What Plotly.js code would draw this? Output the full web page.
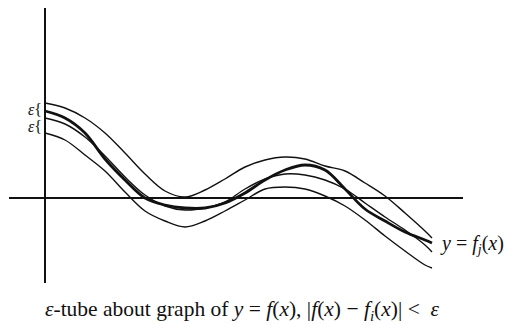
<!DOCTYPE html>
<html>
<head>
<meta charset="utf-8">
<script src="https://cdn.plot.ly/plotly-3.0.1.min.js"></script>
<style>html,body{margin:0;padding:0;background:#fff;}#chart{width:510px;height:324px;}</style>
</head>
<body>
<div id="chart"></div>
<script>
// x positions (shared by all curves)
const xValues = [0,2,4,6,8,10,12,14,16,18,20,22,24,26,28,30,32,34,36,38,38.7];
// upper edge of the tube: f(x) + epsilon
const upperValues = [9.5,9.0,8.0,6.5,4.5,2.4,0.7,0.1,0.8,1.9,3.1,3.8,4.1,3.9,3.2,2.7,1.5,0.2,-1.5,-3.3,-4.0];
// f(x)
const fValues = [8.0,7.4,6.1,4.2,2.1,0.3,-0.8,-1.2,-1.0,-0.4,0.9,1.9,2.4,2.3,1.8,0.9,-0.5,-1.9,-3.2,-4.7,-5.4];
// lower edge of the tube: f(x) - epsilon
const lowerValues = [6.5,5.8,4.3,2.7,0.6,-1.3,-2.3,-2.9,-2.3,-1.3,-0.2,0.9,1.1,0.9,0.2,-0.8,-2.2,-3.8,-5.3,-6.7,-7.0];
// f_j(x)
const fjValues = [8.7,8.0,6.5,3.9,1.8,0.0,-0.7,-1.0,-1.0,-0.5,0.5,1.8,2.8,3.3,2.8,0.9,-1.1,-2.3,-3.4,-4.2,-4.5];

const curveLabel = '<i>y</i> = <i>f<sub>j</sub></i>(<i>x</i>)';
const captionText = '<i>ε</i>-tube about graph of <i>y</i> = <i>f</i>(<i>x</i>), |<i>f</i>(<i>x</i>) − <i>f<sub>i</sub></i>(<i>x</i>)| &lt;  <i>ε</i>';
const epsLabel = '<i>ε</i>';

const thin = {color:'#111', width:1.4, shape:'spline', smoothing:1};
const thick = {color:'#111', width:2.8, shape:'spline', smoothing:1};

const traces = [
  {x:xValues, y:upperValues, mode:'lines', line:thin, hoverinfo:'skip'},
  {x:xValues, y:fValues, mode:'lines', line:thin, hoverinfo:'skip'},
  {x:xValues, y:lowerValues, mode:'lines', line:thin, hoverinfo:'skip'},
  {x:xValues, y:fjValues, mode:'lines', line:thick, hoverinfo:'skip'}
];

const serif = 'Liberation Serif, Times New Roman, serif';

const layout = {
  width:510, height:324,
  margin:{l:9, r:47, t:8, b:41},
  paper_bgcolor:'#fff', plot_bgcolor:'#fff',
  showlegend:false,
  xaxis:{range:[-3.6,41.8], showgrid:false, showticklabels:false, ticks:'', zeroline:true, zerolinecolor:'#111', zerolinewidth:1.4, showline:false, fixedrange:true},
  yaxis:{range:[-8.5,19], showgrid:false, showticklabels:false, ticks:'', zeroline:true, zerolinecolor:'#111', zerolinewidth:1.4, showline:false, fixedrange:true},
  annotations:[
    {x:38.7, y:-4.5, xref:'x', yref:'y', text:curveLabel, showarrow:false, xanchor:'left', yanchor:'middle', xshift:6, yshift:-1, font:{family:serif, size:20, color:'#111'}},
    {x:0.5, y:0, xref:'paper', yref:'paper', yshift:-27, xshift:6, text:captionText, showarrow:false, xanchor:'center', yanchor:'middle', font:{family:serif, size:21.5, color:'#111'}},
    {x:0, y:fjValues[0], xref:'x', yref:'y', text:epsLabel + '{', showarrow:false, xanchor:'right', yanchor:'middle', xshift:-1, yshift:2, font:{family:serif, size:16, color:'#111'}},
    {x:0, y:lowerValues[0], xref:'x', yref:'y', text:epsLabel + '{', showarrow:false, xanchor:'right', yanchor:'middle', xshift:-1, yshift:7, font:{family:serif, size:16, color:'#111'}}
  ]
};

Plotly.newPlot('chart', traces, layout, {staticPlot:true, displayModeBar:false});
</script>
</body>
</html>
